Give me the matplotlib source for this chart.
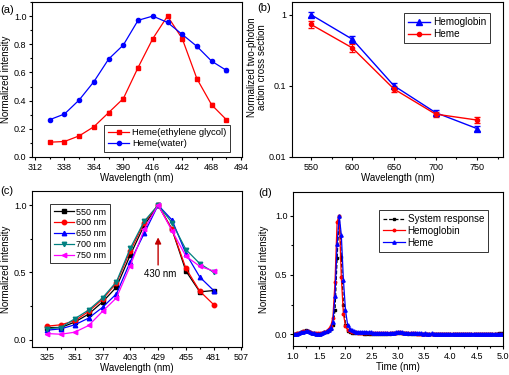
import numpy as np
import matplotlib
matplotlib.use("Agg")
import matplotlib.pyplot as plt
from matplotlib.ticker import MultipleLocator, FixedLocator, NullLocator, FixedFormatter, FormatStrFormatter

plt.rcParams['font.family'] = ['Liberation Sans', 'DejaVu Sans']
plt.rcParams['axes.linewidth'] = 0.8

# ---------------- Data ----------------
# (a)
wl_a = [325, 338, 351, 364, 377, 390, 403, 416, 429, 442, 455, 468, 481]
heme_eg = [0.105, 0.11, 0.15, 0.215, 0.315, 0.415, 0.635, 0.84, 1.0, 0.84, 0.555, 0.37, 0.265]
heme_eg_err = [0.006, 0.006, 0.006, 0.006, 0.008, 0.008, 0.008, 0.008, 0.005, 0.012, 0.012, 0.01, 0.008]
heme_water = [0.265, 0.305, 0.405, 0.535, 0.695, 0.795, 0.97, 1.0, 0.955, 0.87, 0.785, 0.68, 0.615]
heme_water_err = [0.006, 0.006, 0.006, 0.01, 0.006, 0.006, 0.01, 0.005, 0.006, 0.01, 0.012, 0.006, 0.012]

# (b)
wl_b = [550, 600, 650, 700, 750]
tpa_hemoglobin = [1.0, 0.45, 0.10, 0.042, 0.025]
tpa_hemoglobin_err = [0.08, 0.05, 0.008, 0.003, 0.002]
tpa_heme = [0.73, 0.34, 0.09, 0.040, 0.033]
tpa_heme_err = [0.08, 0.045, 0.008, 0.003, 0.003]

# (c)
wl_c = [325, 338, 351, 364, 377, 390, 403, 416, 429, 442, 455, 468, 481]
exc_labels = ["550 nm", "600 nm", "650 nm", "700 nm", "750 nm"]
em_550 = [0.09, 0.09, 0.13, 0.19, 0.28, 0.39, 0.63, 0.85, 1.0, 0.82, 0.51, 0.355, 0.365]
em_600 = [0.10, 0.11, 0.14, 0.21, 0.30, 0.42, 0.66, 0.87, 1.0, 0.82, 0.53, 0.36, 0.26]
em_650 = [0.07, 0.08, 0.11, 0.16, 0.24, 0.34, 0.58, 0.79, 1.0, 0.89, 0.64, 0.465, 0.365]
em_700 = [0.08, 0.09, 0.155, 0.22, 0.31, 0.43, 0.68, 0.88, 1.0, 0.87, 0.67, 0.565, 0.50]
em_750 = [0.045, 0.04, 0.055, 0.105, 0.21, 0.31, 0.55, 0.82, 1.0, 0.81, 0.62, 0.545, 0.51]

# (d)
time_ns = np.linspace(1.0, 5.0, 101)
sys_resp = [0.004, 0.005, 0.008, 0.012, 0.018, 0.028, 0.035, 0.030, 0.020, 0.012,
            0.006, 0.004, 0.003, 0.004, 0.008, 0.014, 0.022, 0.032, 0.045, 0.075,
            0.20, 0.64, 1.00, 0.65, 0.25, 0.08, 0.03, 0.018, 0.012, 0.010,
            0.008, 0.007, 0.006, 0.006, 0.005, 0.005, 0.004, 0.004, 0.004, 0.004,
            0.003, 0.003, 0.003, 0.003, 0.004, 0.004, 0.005, 0.006, 0.007, 0.008,
            0.009, 0.010, 0.009, 0.008, 0.006, 0.005, 0.004, 0.003, 0.003, 0.003,
            0.003, 0.002, 0.003, 0.002, 0.003, 0.002, 0.002, 0.003, 0.002, 0.002,
            0.002, 0.003, 0.002, 0.002, 0.003, 0.002, 0.002, 0.003, 0.002, 0.002,
            0.003, 0.002, 0.003, 0.003, 0.002, 0.003, 0.003, 0.004, 0.003, 0.003,
            0.004, 0.003, 0.004, 0.004, 0.005, 0.004, 0.005, 0.005, 0.006, 0.006, 0.007]
hemoglobin_t = [0.002, 0.003, 0.006, 0.010, 0.016, 0.025, 0.030, 0.027, 0.018, 0.011,
                0.007, 0.006, 0.006, 0.008, 0.012, 0.020, 0.030, 0.045, 0.070, 0.14,
                0.44, 0.95, 1.00, 0.48, 0.17, 0.07, 0.035, 0.025, 0.020, 0.017,
                0.015, 0.013, 0.012, 0.011, 0.011, 0.012, 0.011, 0.010, 0.009, 0.009,
                0.008, 0.008, 0.008, 0.008, 0.009, 0.009, 0.010, 0.011, 0.012, 0.013,
                0.014, 0.014, 0.013, 0.011, 0.009, 0.008, 0.007, 0.006, 0.006, 0.005,
                0.005, 0.005, 0.004, 0.005, 0.004, 0.004, 0.005, 0.004, 0.004, 0.004,
                0.004, 0.004, 0.003, 0.004, 0.004, 0.003, 0.004, 0.003, 0.004, 0.003,
                0.003, 0.004, 0.003, 0.003, 0.004, 0.003, 0.003, 0.004, 0.003, 0.003,
                0.003, 0.003, 0.004, 0.003, 0.003, 0.003, 0.004, 0.003, 0.003, 0.003, 0.003]
heme_t = [0.001, 0.002, 0.005, 0.009, 0.014, 0.021, 0.025, 0.023, 0.016, 0.010,
          0.006, 0.004, 0.004, 0.005, 0.009, 0.015, 0.024, 0.036, 0.055, 0.10,
          0.32, 0.76, 1.00, 0.84, 0.46, 0.20, 0.08, 0.045, 0.032, 0.026,
          0.022, 0.020, 0.018, 0.017, 0.018, 0.021, 0.017, 0.014, 0.012, 0.011,
          0.010, 0.010, 0.009, 0.009, 0.010, 0.010, 0.011, 0.012, 0.013, 0.014,
          0.015, 0.016, 0.014, 0.012, 0.010, 0.009, 0.008, 0.007, 0.007, 0.006,
          0.006, 0.006, 0.005, 0.006, 0.005, 0.005, 0.006, 0.005, 0.005, 0.005,
          0.005, 0.005, 0.004, 0.005, 0.005, 0.004, 0.005, 0.004, 0.005, 0.004,
          0.004, 0.005, 0.004, 0.004, 0.005, 0.004, 0.004, 0.005, 0.004, 0.004,
          0.004, 0.004, 0.005, 0.004, 0.004, 0.004, 0.005, 0.004, 0.004, 0.004, 0.004]

RED = '#ff0000'
BLUE = '#0000ff'
TEAL = '#008080'
MAG = '#ff00ff'

W, H = 510, 375
fig = plt.figure(figsize=(W / 100, H / 100), dpi=100)


def add_ax(l, r, t, b):
    return fig.add_axes([l / W, (H - b) / H, (r - l) / W, (b - t) / H])


TFS = 6.5
LFS = 7


def style(ax):
    ax.tick_params(which='both', direction='out', top=False, right=False, labelsize=TFS,
                   width=0.8, pad=1.5)
    ax.tick_params(which='major', length=2.5)
    ax.tick_params(which='minor', length=1.5)


def legend(ax, **kw):
    lg = ax.legend(frameon=True, fancybox=False, edgecolor='black', borderpad=0.4,
                   labelspacing=0.2, handlelength=2.2, handletextpad=0.3,
                   borderaxespad=0, **kw)
    lg.get_frame().set_linewidth(0.7)
    return lg


# ---------------- (a) ----------------
ax = add_ax(32, 242, 2, 157)
ax.errorbar(wl_a, heme_eg, yerr=heme_eg_err, fmt='none', ecolor=RED, capsize=1.5, elinewidth=0.6)
ax.errorbar(wl_a, heme_water, yerr=heme_water_err, fmt='none', ecolor=BLUE, capsize=1.5, elinewidth=0.6)
ax.plot(wl_a, heme_eg, color=RED, marker='s', ms=3, lw=0.9, label='Heme(ethylene glycol)')
ax.plot(wl_a, heme_water, color=BLUE, marker='o', ms=3, lw=0.9, label='Heme(water)')
ax.set_xlim(309.3, 494.8)
ax.set_ylim(0, 1.1)
ax.xaxis.set_major_locator(FixedLocator([312, 338, 364, 390, 416, 442, 468, 494]))
ax.xaxis.set_minor_locator(FixedLocator([325, 351, 377, 403, 429, 455, 481]))
ax.yaxis.set_major_locator(MultipleLocator(0.2))
ax.yaxis.set_minor_locator(MultipleLocator(0.1))
ax.yaxis.set_major_formatter(FormatStrFormatter('%.1f'))
style(ax)
ax.set_xlabel('Wavelength (nm)', fontsize=LFS, labelpad=1)
ax.set_ylabel('Normalized intensity', fontsize=LFS, labelpad=2)
legend(ax, loc='lower right', bbox_to_anchor=(0.943, 0.032), fontsize=6.8)
fig.text(0 / W, 1 - 10 / H, '(a)', fontsize=8, va='center', ha='left')

# ---------------- (b) ----------------
ax = add_ax(292, 503, 2, 157)
ax.errorbar(wl_b, tpa_hemoglobin, yerr=tpa_hemoglobin_err, fmt='none', ecolor=BLUE,
            capsize=2, elinewidth=0.7)
ax.errorbar(wl_b, tpa_heme, yerr=tpa_heme_err, fmt='none', ecolor=RED,
            capsize=2, elinewidth=0.7)
ax.plot(wl_b, tpa_hemoglobin, color=BLUE, marker='^', ms=4, lw=1.0, label='Hemoglobin')
ax.plot(wl_b, tpa_heme, color=RED, marker='o', ms=3, lw=1.0, label='Heme')
ax.set_yscale('log')
ax.set_xlim(527.5, 781)
ax.set_ylim(0.01, 1.5)
ax.xaxis.set_major_locator(FixedLocator([550, 600, 650, 700, 750]))
ax.xaxis.set_minor_locator(FixedLocator([575, 625, 675, 725, 775]))
ax.yaxis.set_major_locator(FixedLocator([0.01, 0.1, 1]))
ax.yaxis.set_major_formatter(FixedFormatter(['0.01', '0.1', '1']))
ax.yaxis.set_minor_locator(NullLocator())
style(ax)
ax.set_xlabel('Wavelength (nm)', fontsize=LFS, labelpad=1)
ax.set_ylabel('Normalized two-photon\naction cross section', fontsize=LFS,
              linespacing=1.0)
ax.yaxis.set_label_coords(-0.118, 0.58)
legend(ax, loc='upper right', bbox_to_anchor=(0.938, 0.929), fontsize=7.2)
fig.text(257 / W, 1 - 8 / H, '(b)', fontsize=8, va='center', ha='left')

# ---------------- (c) ----------------
ax = add_ax(32, 242, 191, 347)
specs = [(em_550, 'black', 's'), (em_600, RED, 'o'), (em_650, BLUE, '^'),
         (em_700, TEAL, 'v'), (em_750, MAG, '<')]
for (vals, c, m), lab in zip(specs, exc_labels):
    ax.plot(wl_c, vals, color=c, marker=m, ms=3.2, lw=0.9, label=lab)
ax.set_xlim(311, 507.5)
ax.set_ylim(-0.055, 1.105)
ax.xaxis.set_major_locator(FixedLocator([325, 351, 377, 403, 429, 455, 481, 507]))
ax.xaxis.set_minor_locator(FixedLocator([338, 364, 390, 416, 442, 468, 494]))
ax.yaxis.set_major_locator(MultipleLocator(0.5))
ax.yaxis.set_minor_locator(MultipleLocator(0.25))
ax.yaxis.set_major_formatter(FormatStrFormatter('%.1f'))
style(ax)
ax.set_xlabel('Wavelength (nm)', fontsize=LFS, labelpad=1)
ax.set_ylabel('Normalized intensity', fontsize=LFS, labelpad=2)
ax.annotate('', xy=(429, 0.76), xytext=(429, 0.555),
            arrowprops=dict(arrowstyle='-|>', color='#c00000', lw=1.0,
                            mutation_scale=9, shrinkA=0, shrinkB=0))
ax.text(430.5, 0.485, '430 nm', fontsize=7, ha='center', va='center')
legend(ax, loc='upper left', bbox_to_anchor=(0.086, 0.917), fontsize=6.5)
fig.text(0 / W, 1 - 191 / H, '(c)', fontsize=8, va='center', ha='left')

# ---------------- (d) ----------------
ax = add_ax(293, 503, 192, 346)
ax.plot(time_ns, sys_resp, color='black', ls='--', marker='s', ms=2.0, lw=0.9,
        dashes=(3, 1.5), label='System response')
ax.plot(time_ns, hemoglobin_t, color=RED, marker='o', ms=1.8, lw=0.9, label='Hemoglobin')
ax.plot(time_ns, heme_t, color=BLUE, marker='^', ms=2.4, lw=0.9, label='Heme')
ax.set_xlim(1.0, 5.0)
ax.set_ylim(-0.1, 1.2)
ax.xaxis.set_major_locator(MultipleLocator(0.5))
ax.xaxis.set_minor_locator(MultipleLocator(0.25))
ax.yaxis.set_major_locator(FixedLocator([0.0, 0.5, 1.0]))
ax.yaxis.set_minor_locator(FixedLocator([0.25, 0.75]))
ax.xaxis.set_major_formatter(FormatStrFormatter('%.1f'))
ax.yaxis.set_major_formatter(FormatStrFormatter('%.1f'))
style(ax)
ax.set_xlabel('Time (nm)', fontsize=LFS, labelpad=1)
ax.set_ylabel('Normalized intensity', fontsize=LFS, labelpad=4)
legend(ax, loc='upper right', bbox_to_anchor=(0.929, 0.883), fontsize=7.1)
fig.text(258 / W, 1 - 193 / H, '(d)', fontsize=8, va='center', ha='left')

fig.savefig('out.png', dpi=100)
